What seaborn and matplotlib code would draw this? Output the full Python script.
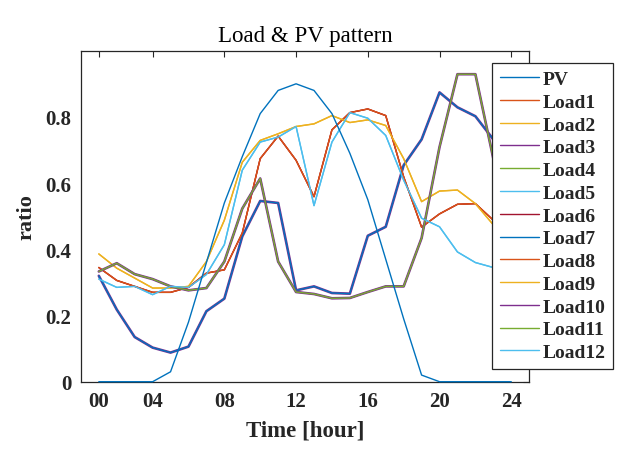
import numpy as np
import pandas as pd
import matplotlib
matplotlib.use("Agg")
import matplotlib.pyplot as plt
import seaborn as sns

# hourly samples, plotted at positions 1..24
hours = list(range(1, 25))
tick_pos = [1, 4, 8, 12, 16, 20, 24]
tick_labels = ["00", "04", "08", "12", "16", "20", "24"]

pv = [0, 0, 0, 0, 0.03, 0.18, 0.36, 0.54, 0.68, 0.81, 0.88, 0.90,
      0.88, 0.81, 0.69, 0.55, 0.37, 0.19, 0.02, 0, 0, 0, 0, 0]

# load profiles (several loads share one profile)
prof_red = [0.345, 0.306, 0.288, 0.27, 0.27, 0.285, 0.328, 0.338, 0.449, 0.674, 0.742, 0.669,
            0.559, 0.761, 0.813, 0.824, 0.804, 0.619, 0.467, 0.507, 0.536, 0.538, 0.488, 0.46]
prof_yellow = [0.386, 0.343, 0.313, 0.283, 0.283, 0.288, 0.363, 0.488, 0.663, 0.729, 0.749, 0.771,
               0.779, 0.804, 0.783, 0.791, 0.774, 0.674, 0.544, 0.576, 0.579, 0.538, 0.474, 0.46]
prof_sky = [0.31, 0.285, 0.288, 0.263, 0.288, 0.285, 0.324, 0.414, 0.639, 0.724, 0.739, 0.771,
            0.532, 0.724, 0.813, 0.796, 0.744, 0.609, 0.494, 0.468, 0.392, 0.36, 0.345, 0.34]
prof_navy = [0.32, 0.218, 0.135, 0.103, 0.088, 0.106, 0.213, 0.251, 0.439, 0.546, 0.54, 0.276,
             0.288, 0.268, 0.266, 0.441, 0.468, 0.654, 0.732, 0.874, 0.829, 0.802, 0.732, 0.67]
prof_green = [0.333, 0.358, 0.325, 0.31, 0.288, 0.276, 0.283, 0.363, 0.523, 0.614, 0.363, 0.271,
              0.265, 0.252, 0.253, 0.271, 0.288, 0.288, 0.434, 0.709, 0.929, 0.929, 0.674, 0.48]

series_names = ["PV"] + ["Load%d" % i for i in range(1, 13)]
series_values = [pv,
                 prof_red, prof_yellow, prof_navy, prof_green, prof_sky, prof_red,
                 prof_navy, prof_red, prof_yellow, prof_green, prof_green, prof_sky]

# matlab default colour order
matlab = ["#0072BD", "#D95319", "#EDB120", "#7E2F8E", "#77AC30", "#4DBEEE", "#A2142F"]
colors = [matlab[i % 7] for i in range(len(series_names))]

sns.set_style("white")
plt.rcParams["font.family"] = ["Liberation Serif", "DejaVu Serif"]

fig = plt.figure(figsize=(6.27, 4.52), dpi=100)
ax = fig.add_axes([0.129, 0.1533, 0.715, 0.7323])

for name, vals, col in zip(series_names, series_values, colors):
    # lines hidden underneath others look thicker in the original
    lw = 1.9 if name in ("Load3", "Load10") else 1.0
    sns.lineplot(x=hours, y=vals, color=col, linewidth=lw, label=name, ax=ax)

# PV sits on the x axis at night, drawn over the spine
ax.lines[0].set_clip_on(False)
ax.lines[0].set_zorder(3)

ax.set_xlim(0, 25)
ax.set_ylim(0, 1)
ax.set_xticks(tick_pos)
ax.set_xticklabels(tick_labels)
ax.set_yticks([0, 0.2, 0.4, 0.6, 0.8])
ax.set_yticklabels(["0", "0.2", "0.4", "0.6", "0.8"])
ax.tick_params(direction="in", length=4, width=0.8, colors="#262626",
               top=True, right=True, labelsize=15, pad=7)
for lab in ax.get_xticklabels() + ax.get_yticklabels():
    lab.set_fontweight("bold")
for sp in ax.spines.values():
    sp.set_color("#262626")
    sp.set_linewidth(0.9)

ax.set_title("Load & PV pattern", fontsize=16.5, color="#000000", pad=7)
ax.set_xlabel("Time [hour]", fontsize=16.5, fontweight="bold", color="#262626", labelpad=6)
ax.set_ylabel("ratio", fontsize=16, fontweight="bold", color="#262626", labelpad=6)

leg = ax.legend(loc="upper left", bbox_to_anchor=(0.917, 0.964), borderaxespad=0,
                prop={"weight": "bold", "size": 14}, frameon=True, fancybox=False,
                framealpha=1, edgecolor="#262626", handlelength=2.0, handletextpad=0.2,
                labelspacing=0.265, borderpad=0.4)
leg.set_zorder(5)
leg.get_frame().set_linewidth(0.9)
for h in leg.legend_handles:
    h.set_linewidth(1.0)

fig.savefig("out.png", dpi=100)
